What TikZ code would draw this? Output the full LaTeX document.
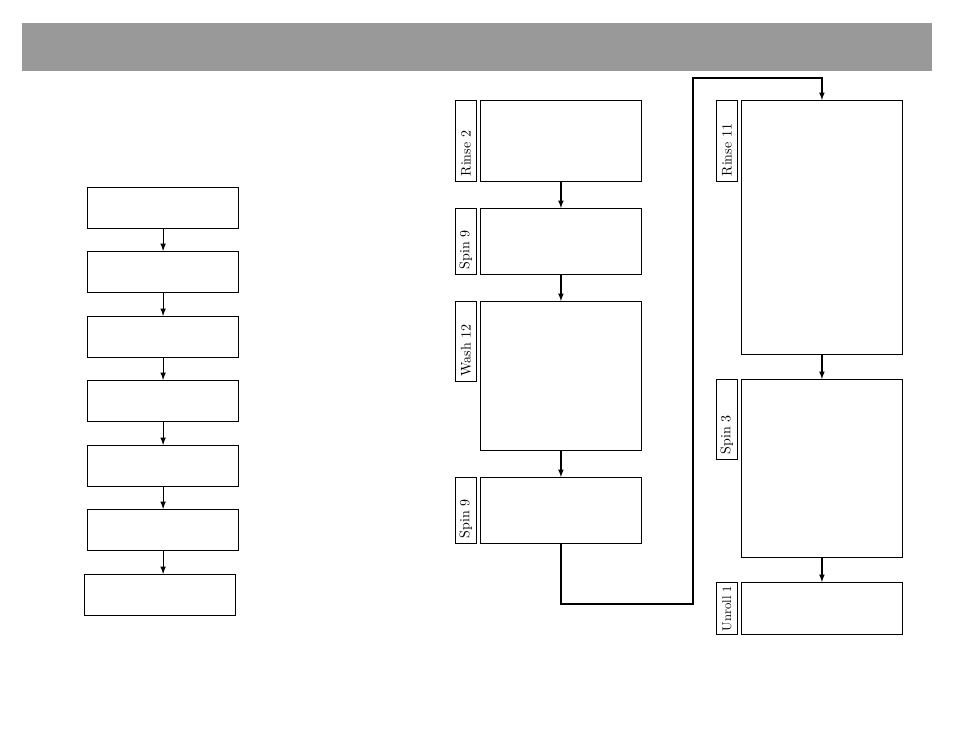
\documentclass[tikz,border=0pt]{standalone}
\usetikzlibrary{positioning}
\definecolor{bandeau}{RGB}{153,153,153}
\begin{document}
\begin{tikzpicture}[x=0.75pt,y=-0.75pt]
\tikzstyle{lien}=[->,>=latex,line width=0.9pt]
\tikzset{etape/.style={draw,line width=0.9pt,anchor=north west,inner sep=0pt,minimum width=113.25pt,minimum height=30.75pt},
bac/.style={draw,line width=0.9pt,anchor=north west,inner sep=0pt,minimum width=120.5pt,minimum height=#1},
onglet/.style={draw,line width=0.9pt,rotate=90,anchor=south east,inner xsep=4pt,inner ysep=0pt,minimum height=15.75pt,text width=#1,align=left,font=\fontsize{10.5}{12}\selectfont}}
\useasboundingbox (0,0) rectangle (954,738);
\fill[bandeau] (22,23) rectangle (932,71);

% colonne de gauche
\node[etape] (e1) at (87,187) {};
\node[etape] (e2) at (87,251) {};
\node[etape] (e3) at (87,316) {};
\node[etape] (e4) at (87,380) {};
\node[etape] (e5) at (87,445) {};
\node[etape] (e6) at (87,509) {};
\node[etape] (e7) at (84,574) {};

\draw[lien] (e1) -- (e2);
\draw[lien] (e2) -- (e3);
\draw[lien] (e3) -- (e4);
\draw[lien] (e4) -- (e5);
\draw[lien] (e5) -- (e6);
\draw[lien] (e6.south) -- (e6.south |- e7.north);

% programme
\node[bac=60.75pt] (r1) at (480,100) {};
\node[onglet=52.75pt] (o1) at ([xshift=-2.25pt]r1.north west) {Rinse 2};
\node[bac=49.5pt] (r2) at (480,208) {};
\node[onglet=41.5pt] (o2) at ([xshift=-2.25pt]r2.north west) {Spin 9};
\node[bac=111.75pt] (r3) at (480,301) {};
\node[onglet=52pt] (o3) at ([xshift=-2.25pt]r3.north west) {Wash 12};
\node[bac=49.5pt] (r4) at (480,477) {};
\node[onglet=41.5pt] (o4) at ([xshift=-2.25pt]r4.north west) {Spin 9};
\node[bac=190.5pt] (r5) at (741,100) {};
\node[onglet=52.75pt] (o5) at ([xshift=-2.25pt]r5.north west) {Rinse 11};
\node[bac=133.5pt] (r6) at (741,379) {};
\node[onglet=52pt] (o6) at ([xshift=-2.25pt]r6.north west) {Spin 3};
\node[bac=39pt] (r7) at (741,582) {};
\node[onglet=34pt,inner xsep=2.5pt,font=\fontsize{9.5}{12}\selectfont] (o7) at ([xshift=-2.25pt]r7.north west) {\mbox{Unroll 1}};

\draw[lien] (r1) -- (r2);
\draw[lien] (r2) -- (r3);
\draw[lien] (r3) -- (r4);
\coordinate (bas) at (693,604);
\coordinate (haut) at (693,78);
\draw[lien] (r4.south) |- (bas) -- (haut) -| (r5.north);
\draw[lien] (r5) -- (r6);
\draw[lien] (r6) -- (r7);

\end{tikzpicture}
\end{document}
